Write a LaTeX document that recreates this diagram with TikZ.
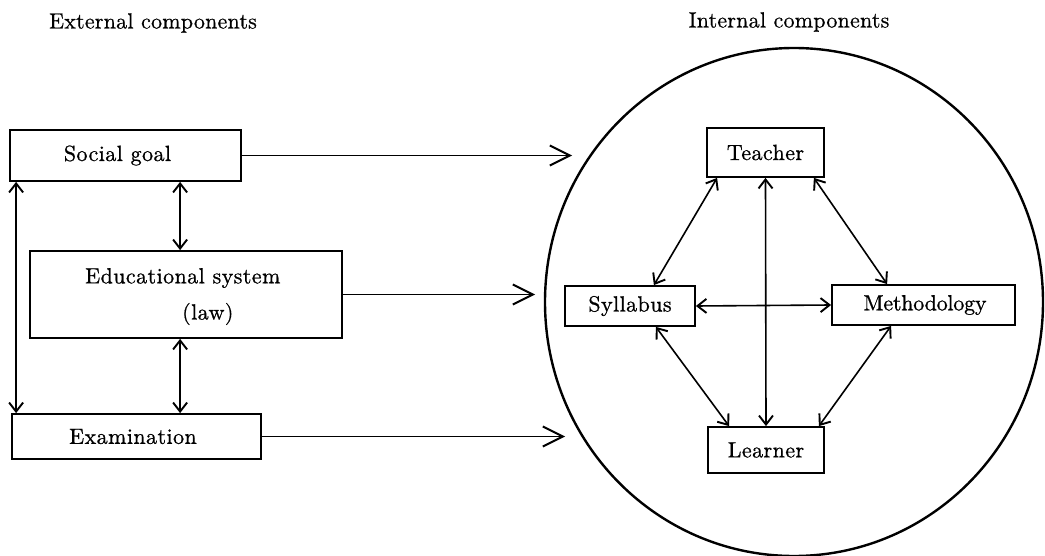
\documentclass[tikz,border=0pt]{standalone}
\usepackage{fontspec}
\setmainfont{lmroman10-regular}[Extension=.otf,LetterSpace=2,FakeBold=0.8]
\newfontfamily\headfont{lmroman10-regular}[Extension=.otf,LetterSpace=1,FakeBold=0.6]
\newfontfamily\methfont{lmroman10-regular}[Extension=.otf,LetterSpace=-1,FakeBold=0.8]
\usetikzlibrary{arrows.meta,calc,shapes.geometric}
\begin{document}
\begin{tikzpicture}[x=1pt,y=-1pt,
  box/.style={draw,line width=1.8pt,inner sep=0pt,font=\fontsize{22}{26}\selectfont},
  lbl/.style={inner sep=0pt,font=\fontsize{22}{26}\selectfont},
  head/.style={inner sep=0pt,font=\headfont\fontsize{22}{26}\selectfont},
  bigarr/.style={line width=1.8pt,-{Straight Barb[length=20pt,width=20pt,line width=2pt]}},
  dbl/.style={line width=1.6pt,{Straight Barb[length=9pt,width=14pt,line width=1.9pt]}-{Straight Barb[length=9pt,width=14pt,line width=1.9pt]}}]
\useasboundingbox (0,0) rectangle (1045,556);
% headers
\node[head] (exthead) at (153,23) {External components};
\node[head] (inthead) at (789,22) {Internal components};
% circle
\node[draw,line width=2.4pt,ellipse,minimum width=498pt,minimum height=508pt,inner sep=0pt] (circ) at (794,302) {};
% external boxes
\node[box,minimum width=231pt,minimum height=51pt] (social) at (125.5,155.5) {\hspace*{-16pt}Social goal};
\node[box,minimum width=312pt,minimum height=87pt] (edu) at (186,294.5) {};
\node[lbl,anchor=west] (edut1) at (85,278) {Educational system};
\node[lbl,anchor=west] (edut2) at (182,314) {(law)};
\node[box,minimum width=249pt,minimum height=45pt] (exam) at (136.5,436.5) {\hspace*{-7pt}Examination};
% internal boxes
\node[box,minimum width=117pt,minimum height=49pt] (teacher) at (765.5,152.5) {Teacher};
\node[box,minimum width=130pt,minimum height=40pt] (syl) at (630,306) {Syllabus};
\node[box,minimum width=183pt,minimum height=40pt] (meth) at (923.5,305) {\methfont\hspace*{3pt}Methodology};
\node[box,minimum width=116pt,minimum height=46pt] (learner) at (766,450) {Learner};
% tips of external arrows
\coordinate (t1) at (572,155.5);
\coordinate (t2) at (535,294.5);
\coordinate (t3) at (565,436.5);
\draw[bigarr] (social.east) -- (t1);
\draw[bigarr] (edu.east) -- (t2);
\draw[bigarr] (exam.east) -- (t3);
% external vertical arrows
\draw[dbl] ($(social.south west)+(7,0)$) -- ($(exam.north west)+(5,0)$);
\draw[dbl] ($(social.south west)+(171,0)$) -- ($(edu.north west)+(151,0)$);
\draw[dbl] ($(edu.south west)+(151,0)$) -- ($(exam.north west)+(169,0)$);
% internal arrows
\draw[dbl] ($(teacher.south west)+(11,0)$) -- ($(syl.north east)+(-42,0)$);
\draw[dbl] ($(teacher.south east)+(-11,0)$) -- ($(meth.north west)+(56,0)$);
\draw[dbl] (teacher.south) -- (learner.north);
\draw[dbl] (syl.east) -- (meth.west);
\draw[dbl] ($(syl.south east)+(-40,0)$) -- ($(learner.north west)+(22,0)$);
\draw[dbl] ($(meth.south west)+(60,0)$) -- ($(learner.north east)+(-6,0)$);
\end{tikzpicture}
\end{document}
